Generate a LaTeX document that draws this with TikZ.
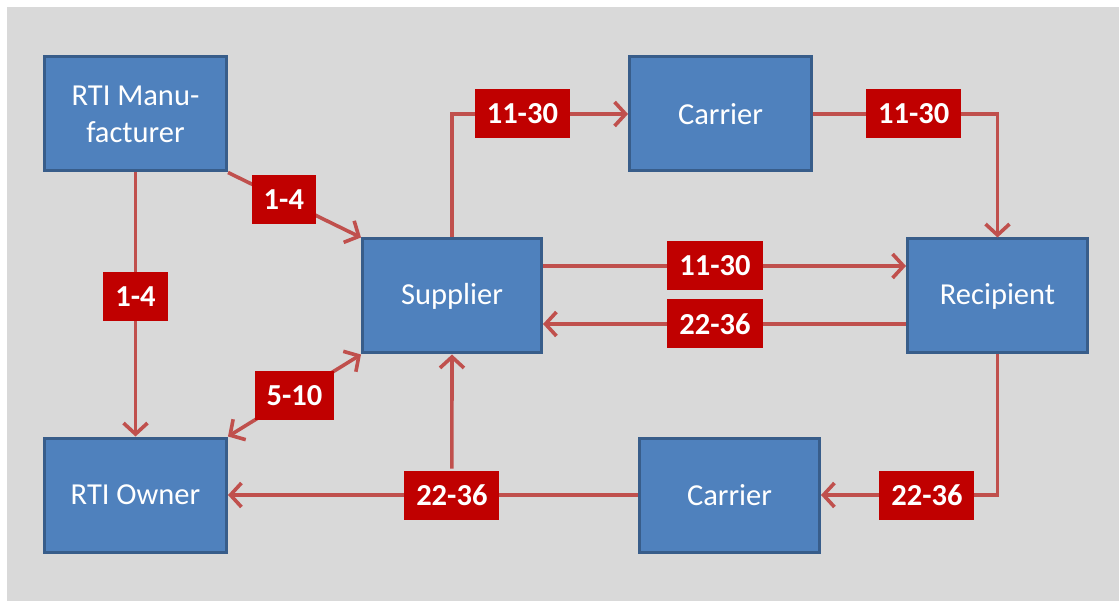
\documentclass[tikz,border=0pt]{standalone}
\usepackage{fontspec}
\setmainfont{Carlito}
\usetikzlibrary{arrows.meta}
\definecolor{bgray}{HTML}{D9D9D9}
\definecolor{boxfill}{HTML}{4F81BD}
\definecolor{boxline}{HTML}{385D8A}
\definecolor{lblred}{HTML}{C00000}
\definecolor{arrred}{HTML}{C0504D}
\begin{document}
\begin{tikzpicture}[x=1pt,y=-1pt,
  box/.style={draw=boxline, line width=3pt, fill=boxfill, text=white,
    minimum height=114pt, align=center, inner sep=0pt,
    font=\fontsize{30.5}{37}\selectfont},
  lbl/.style={fill=lblred, text=white, minimum height=49pt, inner xsep=12pt,
    inner ysep=0pt, font=\bfseries\fontsize{30.5}{35}\selectfont},
  arr/.style={draw=arrred, line width=3.6pt,
    -{Straight Barb[length=11pt,width=24pt,line width=3.6pt]}},
  dbl/.style={draw=arrred, line width=3.6pt,
    {Straight Barb[length=11pt,width=24pt,line width=3.6pt]}-{Straight Barb[length=11pt,width=24pt,line width=3.6pt]}}
]
\useasboundingbox (0,0) rectangle (1119,601);
\fill[white] (0,0) rectangle (1119,601);
\fill[bgray] (7,7) rectangle (1119,601);

\node[box, minimum width=182pt] (man) at (135.5,114) {RTI Manu-\\facturer};
\node[box, minimum width=182pt] (own) at (135.5,495) {RTI Owner};
\node[box, minimum width=179pt] (sup) at (452,296) {Supplier};
\node[box, minimum width=182pt] (car1) at (720.5,114) {Carrier};
\node[box, minimum width=180pt] (rec) at (997.5,296) {Recipient};
\node[box, minimum width=180pt] (car2) at (729.5,495) {Carrier};

\draw[arr] (man.south east) -- node[lbl, pos=0.42] (l1) {1-4} (sup.north west);
\draw[arr] (man.south) -- node[lbl, pos=0.47] (l2) {1-4} (own.north);
\draw[dbl] (own.north east) -- node[lbl, pos=0.5] (l3) {5-10} (sup.south west);
\draw[arr] (sup.north) |- node[lbl, pos=0.7] (l4) {11-30} (car1.west);
\draw[arr] (car1.east) -| node[lbl, pos=0.273] (l5) {11-30} (rec.north);
\draw[arr] ([yshift=30pt]sup.east) -- node[lbl, pos=0.474] (l6) {11-30} ([yshift=30pt]rec.west);
\draw[arr] ([yshift=-28pt]rec.west) -- node[lbl, pos=0.526] (l7) {22-36} ([yshift=-28pt]sup.east);
\draw[arr] (rec.south) |- node[lbl, pos=0.7] (l8) {22-36} (car2.east);
\draw[arr] (car2.west) -- node[lbl, pos=0.454] (l9) {22-36} (own.east);
\draw[arr] (l9.north) -- (sup.south);
\end{tikzpicture}
\end{document}
